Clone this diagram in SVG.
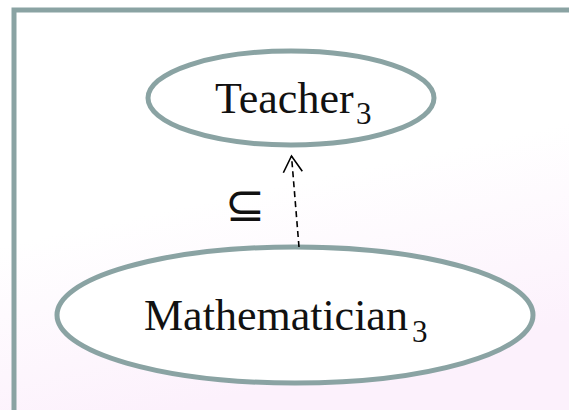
<svg xmlns="http://www.w3.org/2000/svg" width="569" height="410" viewBox="0 0 569 410">
<defs>
<linearGradient id="bg" x1="0" y1="0" x2="0.3" y2="1">
<stop offset="0" stop-color="#ffffff"/>
<stop offset="0.55" stop-color="#ffffff"/>
<stop offset="1" stop-color="#fcf1fc"/>
</linearGradient>
<marker id="open" viewBox="0 0 20 22" refX="18" refY="11" markerWidth="20" markerHeight="22" markerUnits="userSpaceOnUse" orient="auto">
<path d="M2,1.5 L18,11 L2,20.5" fill="none" stroke="#000" stroke-width="1.6"/>
</marker>
<style>
.node{fill:#ffffff;stroke:#8aa3a3;stroke-width:5}
.lbl{font-family:"Liberation Serif","Times New Roman",serif;fill:#111}
.sub{font-family:"Liberation Serif","Times New Roman",serif;font-size:31px;fill:#111}
.edge{stroke:#000;stroke-width:1.6;stroke-dasharray:6,4;fill:none}
</style>
</defs>
<rect x="0" y="0" width="569" height="410" fill="url(#bg)"/>
<rect x="14" y="10" width="620" height="460" fill="none" stroke="#8aa3a3" stroke-width="5"/>
<g id="teacher">
<ellipse class="node" cx="291" cy="98" rx="143" ry="47"/>
<text class="lbl" x="215" y="113" style="font-size:44px">Teacher</text>
<text class="sub" x="356" y="124">3</text>
</g>
<g id="mathematician">
<ellipse class="node" cx="295" cy="315" rx="238" ry="68"/>
<text class="lbl" x="144" y="330" style="font-size:44px">Mathematician</text>
<text class="sub" x="412" y="342">3</text>
</g>
<g id="connectors">
<line class="edge" x1="299" y1="247" x2="291.5" y2="156" marker-end="url(#open)"/>
<text x="225" y="221" style="font-family:'DejaVu Sans',sans-serif;font-size:48px;fill:#111">⊆</text>
</g>
</svg>
